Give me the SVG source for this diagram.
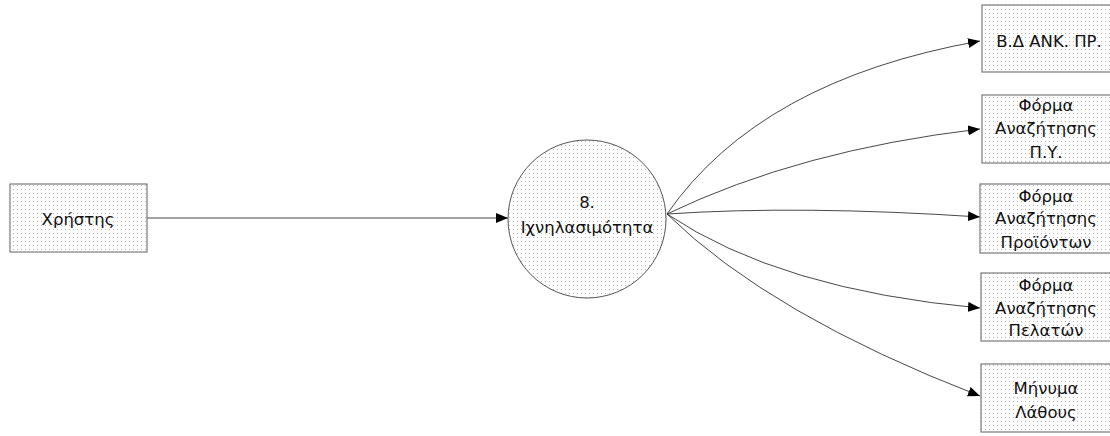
<svg xmlns="http://www.w3.org/2000/svg" width="1110" height="436" viewBox="0 0 1110 436">
<style>
.box{fill:url(#dots);stroke:#7a7a7a;stroke-width:1.2}
.proc{fill:url(#dots);stroke:#555;stroke-width:1}
.lbl{font-family:"DejaVu Sans","Liberation Sans",sans-serif;font-size:16.5px;fill:#111;text-anchor:middle}
.flow{fill:none;stroke:#333;stroke-width:0.9;marker-end:url(#arr)}
</style>
<defs>
<pattern id="dots" width="4" height="4" patternUnits="userSpaceOnUse">
<rect width="4" height="4" fill="#fff"/>
<rect x="1" y="1" width="1" height="1" fill="#b4b4b4"/>
</pattern>
<marker id="arr" viewBox="0 0 12 10" refX="12" refY="5" markerWidth="12" markerHeight="10" markerUnits="userSpaceOnUse" orient="auto">
<path d="M0,0 L12,5 L0,10 Z" fill="#000"/>
</marker>
</defs>
<rect width="1110" height="436" fill="#fff"/>
<g id="connectors">
<path class="flow" d="M147,218 L508,218"/>
<path class="flow" d="M667,214 Q760,80 980,41"/>
<path class="flow" d="M667,214 Q800,150 980,129"/>
<path class="flow" d="M667,214 Q800,205 980,217"/>
<path class="flow" d="M667,214 Q780,290 980,308"/>
<path class="flow" d="M667,214 Q770,315 980,396"/>
</g>
<g id="user">
<rect class="box" x="10" y="184" width="137" height="68"/>
<text class="lbl" x="78" y="225">Χρήστης</text>
</g>
<g id="process8">
<circle class="proc" cx="587" cy="219" r="79"/>
<text class="lbl" x="587" y="208">8.</text>
<text class="lbl" x="587" y="233">Ιχνηλασιμότητα</text>
</g>
<g id="db">
<rect class="box" x="982" y="5" width="140" height="67"/>
<text class="lbl" x="1049" y="47">Β.Δ ΑΝΚ. ΠΡ.</text>
</g>
<g id="form-py">
<rect class="box" x="982" y="95" width="140" height="68"/>
<text class="lbl" x="1046" y="111">Φόρμα</text>
<text class="lbl" x="1046" y="134">Αναζήτησης</text>
<text class="lbl" x="1046" y="158">Π.Υ.</text>
</g>
<g id="form-products">
<rect class="box" x="980" y="184" width="140" height="69"/>
<text class="lbl" x="1046" y="202">Φόρμα</text>
<text class="lbl" x="1046" y="224">Αναζήτησης</text>
<text class="lbl" x="1046" y="248">Προϊόντων</text>
</g>
<g id="form-customers">
<rect class="box" x="981" y="273" width="140" height="68"/>
<text class="lbl" x="1046" y="291">Φόρμα</text>
<text class="lbl" x="1046" y="314">Αναζήτησης</text>
<text class="lbl" x="1046" y="336">Πελατών</text>
</g>
<g id="error-msg">
<rect class="box" x="981" y="364" width="140" height="68"/>
<text class="lbl" x="1046" y="394">Μήνυμα</text>
<text class="lbl" x="1046" y="418">Λάθους</text>
</g>
</svg>
